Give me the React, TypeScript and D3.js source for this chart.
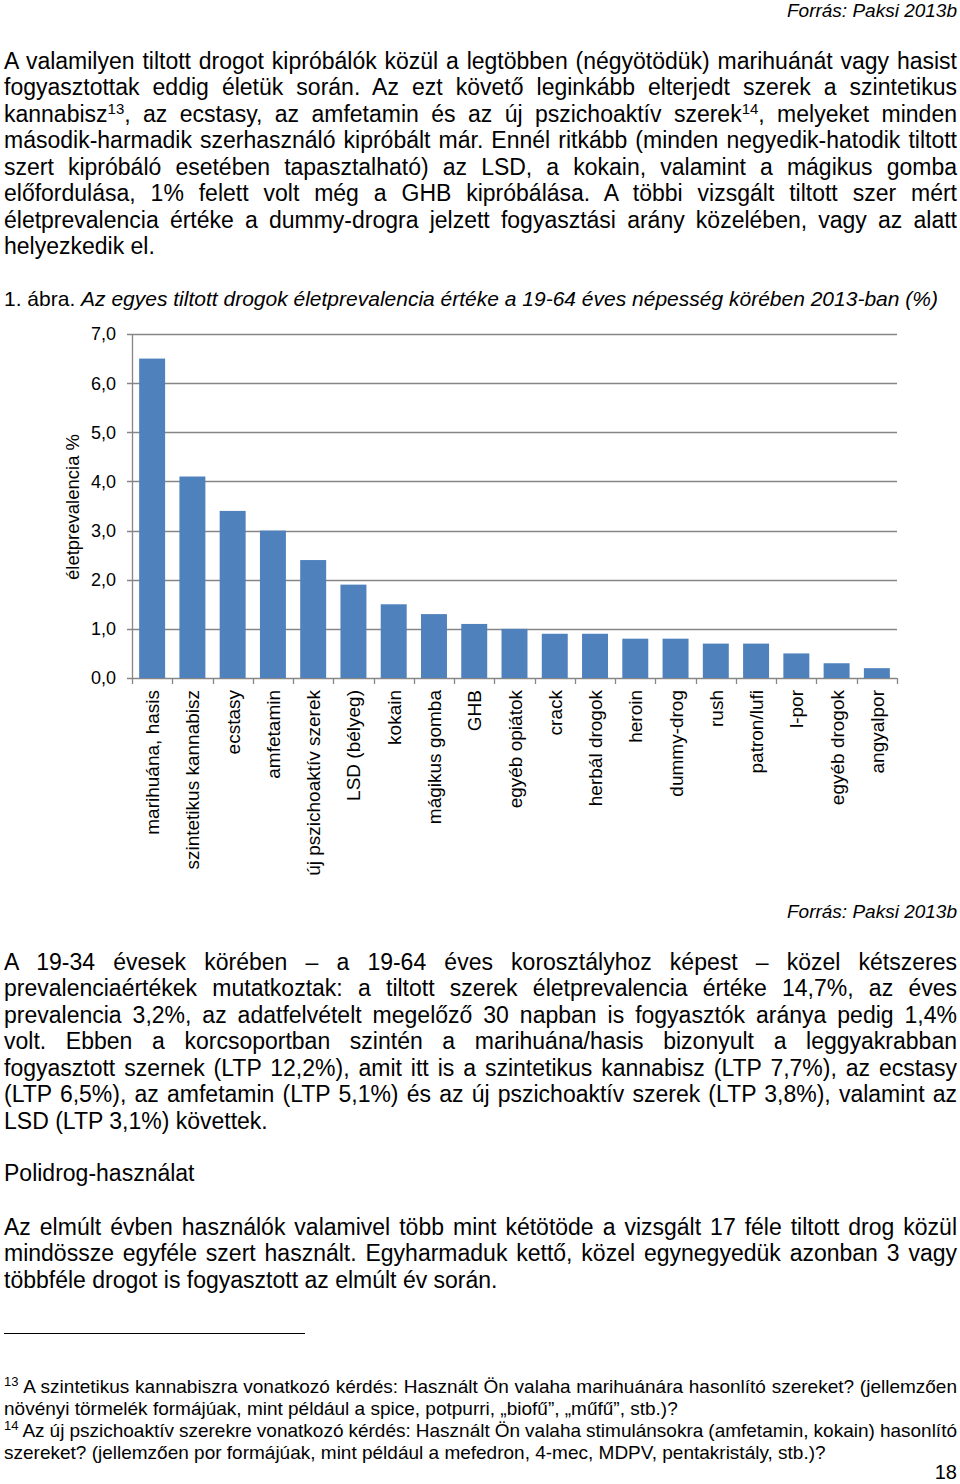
import React, { useEffect, useRef } from "react";
import * as d3 from "d3";

// ---------- chart data ----------
const categories = [
  "marihuána, hasis",
  "szintetikus kannabisz",
  "ecstasy",
  "amfetamin",
  "új pszichoaktív szerek",
  "LSD (bélyeg)",
  "kokain",
  "mágikus gomba",
  "GHB",
  "egyéb opiátok",
  "crack",
  "herbál drogok",
  "heroin",
  "dummy-drog",
  "rush",
  "patron/lufi",
  "l-por",
  "egyéb drogok",
  "angyalpor",
];
const values = [6.5, 4.1, 3.4, 3.0, 2.4, 1.9, 1.5, 1.3, 1.1, 1.0, 0.9, 0.9, 0.8, 0.8, 0.7, 0.7, 0.5, 0.3, 0.2];
const yTicks = [0, 1, 2, 3, 4, 5, 6, 7];
const yTickLabels = ["0,0", "1,0", "2,0", "3,0", "4,0", "5,0", "6,0", "7,0"];
const yTitle = "életprevalencia %";

// ---------- page text ----------
const source = "Forrás: Paksi 2013b";
const para1 = [
  "A valamilyen tiltott drogot kipróbálók közül a legtöbben (négyötödük) marihuánát vagy hasist",
  "fogyasztottak eddig életük során. Az ezt követő leginkább elterjedt szerek a szintetikus",
  "kannabisz{13}, az ecstasy, az amfetamin és az új pszichoaktív szerek{14}, melyeket minden",
  "második-harmadik szerhasználó kipróbált már. Ennél ritkább (minden negyedik-hatodik tiltott",
  "szert kipróbáló esetében tapasztalható) az LSD, a kokain, valamint a mágikus gomba",
  "előfordulása, 1% felett volt még a GHB kipróbálása. A többi vizsgált tiltott szer mért",
  "életprevalencia értéke a dummy-drogra jelzett fogyasztási arány közelében, vagy az alatt",
  "helyezkedik el.",
];
const captionPrefix = "1. ábra. ";
const captionText = "Az egyes tiltott drogok életprevalencia értéke a 19-64 éves népesség körében 2013-ban (%)";
const para2 = [
  "A 19-34 évesek körében – a 19-64 éves korosztályhoz képest – közel kétszeres",
  "prevalenciaértékek mutatkoztak: a tiltott szerek életprevalencia értéke 14,7%, az éves",
  "prevalencia 3,2%, az adatfelvételt megelőző 30 napban is fogyasztók aránya pedig 1,4%",
  "volt. Ebben a korcsoportban szintén a marihuána/hasis bizonyult a leggyakrabban",
  "fogyasztott szernek (LTP 12,2%), amit itt is a szintetikus kannabisz (LTP 7,7%), az ecstasy",
  "(LTP 6,5%), az amfetamin (LTP 5,1%) és az új pszichoaktív szerek (LTP 3,8%), valamint az",
  "LSD (LTP 3,1%) követtek.",
];
const heading = "Polidrog-használat";
const para3 = [
  "Az elmúlt évben használók valamivel több mint kétötöde a vizsgált 17 féle tiltott drog közül",
  "mindössze egyféle szert használt. Egyharmaduk kettő, közel egynegyedük azonban 3 vagy",
  "többféle drogot is fogyasztott az elmúlt év során.",
];
const footnotes = [
  "{13} A szintetikus kannabiszra vonatkozó kérdés: Használt Ön valaha marihuánára hasonlító szereket? (jellemzően",
  "növényi törmelék formájúak, mint például a spice, potpurri, „biofű”, „műfű”, stb.)?",
  "{14} Az új pszichoaktív szerekre vonatkozó kérdés: Használt Ön valaha stimulánsokra (amfetamin, kokain) hasonlító",
  "szereket? (jellemzően por formájúak, mint például a mefedron, 4-mec, MDPV, pentakristály, stb.)?",
];
const pageNumber = "18";

const FONT = "'Liberation Sans', Arial, sans-serif";
const W = 960;
const H = 1484;
const LEFT = 4;
const RIGHT = 957;

export default function App() {
  const ref = useRef<SVGSVGElement | null>(null);

  useEffect(() => {
    const svg = d3.select(ref.current);
    svg.selectAll("*").remove();

    // ---- helper for a text line with optional superscripts and justification ----
    function line(
      str: string,
      y: number,
      size: number,
      justify: boolean,
      supSize: number,
      supRaise: number
    ) {
      const t = svg
        .append("text")
        .attr("x", LEFT)
        .attr("y", y)
        .attr("font-family", FONT)
        .attr("font-size", size)
        .attr("fill", "#000")
        .attr("xml:space", "preserve")
        .style("white-space", "pre");
      const parts = str.split(/\{(\d+)\}/);
      let raised = false;
      parts.forEach((p, i) => {
        if (p === "") return;
        if (i % 2 === 1) {
          t.append("tspan").attr("font-size", supSize).attr("dy", -supRaise).text(p);
          raised = true;
        } else {
          const ts = t.append("tspan").text(p);
          if (raised) {
            ts.attr("dy", supRaise);
            raised = false;
          }
        }
      });
      if (justify) {
        const node = t.node() as SVGTextElement;
        const len = node.getComputedTextLength();
        const spaces = (str.replace(/\{\d+\}/g, "").match(/ /g) || []).length;
        if (spaces > 0) {
          const ws = (RIGHT - LEFT - len) / spaces;
          t.style("word-spacing", `${ws}px`);
        }
      }
      return t;
    }

    // ---- top source ----
    svg
      .append("text")
      .attr("x", RIGHT)
      .attr("y", 17)
      .attr("text-anchor", "end")
      .attr("font-family", FONT)
      .attr("font-style", "italic")
      .attr("font-size", 19)
      .text(source);

    // ---- paragraph 1 ----
    para1.forEach((s, i) => line(s, 69 + i * 26.45, 23, i < para1.length - 1, 15, 8));

    // ---- caption ----
    const cap = svg
      .append("text")
      .attr("x", LEFT)
      .attr("y", 306)
      .attr("font-family", FONT)
      .attr("font-size", 21)
      .attr("xml:space", "preserve")
      .style("white-space", "pre");
    cap.append("tspan").text(captionPrefix);
    cap.append("tspan").attr("font-style", "italic").text(captionText);

    // ---- chart ----
    const x0 = 132;
    const x1 = 897;
    const yBase = 678;
    const yTop = 334;
    const x = d3.scaleBand<string>().domain(categories).range([x0, x1]).paddingInner(0.355).paddingOuter(0.1775);
    const y = d3.scaleLinear().domain([0, 7]).range([yBase, yTop]);
    const g = svg.append("g");
    const gridColor = "#868686";

    // gridlines + y ticks
    yTicks.forEach((v, i) => {
      g.append("line")
        .attr("x1", x0 - 5)
        .attr("x2", x1)
        .attr("y1", Math.round(y(v)) + 0.5)
        .attr("y2", Math.round(y(v)) + 0.5)
        .attr("stroke", gridColor)
        .attr("stroke-width", 1.3);
      g.append("text")
        .attr("x", x0 - 16)
        .attr("y", y(v))
        .attr("dy", "0.36em")
        .attr("text-anchor", "end")
        .attr("font-family", FONT)
        .attr("font-size", 18)
        .attr("fill", "#000")
        .text(yTickLabels[i]);
    });

    // y axis line
    g.append("line")
      .attr("x1", x0 + 0.5)
      .attr("x2", x0 + 0.5)
      .attr("y1", yTop)
      .attr("y2", yBase)
      .attr("stroke", gridColor)
      .attr("stroke-width", 1.3);

    // bars
    g.selectAll("rect.bar")
      .data(values)
      .enter()
      .append("rect")
      .attr("class", "bar")
      .attr("x", (_d, i) => x(categories[i]) as number)
      .attr("width", x.bandwidth())
      .attr("y", (d) => y(d))
      .attr("height", (d) => yBase - y(d))
      .attr("fill", "#4f81bd");

    // x category ticks
    const step = x.step();
    d3.range(categories.length + 1).forEach((i) => {
      const xx = Math.round(x0 + i * step) + 0.5;
      g.append("line")
        .attr("x1", xx)
        .attr("x2", xx)
        .attr("y1", yBase)
        .attr("y2", yBase + 6)
        .attr("stroke", gridColor)
        .attr("stroke-width", 1.3);
    });

    // x labels
    categories.forEach((c) => {
      const cx = (x(c) as number) + x.bandwidth() / 2;
      g.append("text")
        .attr("transform", `translate(${cx + 7},${yBase + 12}) rotate(-90)`)
        .attr("text-anchor", "end")
        .attr("font-family", FONT)
        .attr("font-size", 19)
        .attr("fill", "#000")
        .text(c);
    });

    // y title
    g.append("text")
      .attr("transform", `translate(${79},${507}) rotate(-90)`)
      .attr("text-anchor", "middle")
      .attr("font-family", FONT)
      .attr("font-size", 18.5)
      .attr("fill", "#000")
      .text(yTitle);

    // ---- second source ----
    svg
      .append("text")
      .attr("x", RIGHT)
      .attr("y", 918)
      .attr("text-anchor", "end")
      .attr("font-family", FONT)
      .attr("font-style", "italic")
      .attr("font-size", 19)
      .text(source);

    // ---- paragraph 2 ----
    para2.forEach((s, i) => line(s, 970 + i * 26.45, 23, i < para2.length - 1, 15, 8));

    // ---- heading ----
    line(heading, 1181, 23, false, 15, 8);

    // ---- paragraph 3 ----
    para3.forEach((s, i) => line(s, 1235 + i * 26.45, 23, i < para3.length - 1, 15, 8));

    // ---- footnote rule ----
    svg
      .append("line")
      .attr("x1", LEFT)
      .attr("x2", 305)
      .attr("y1", 1333.5)
      .attr("y2", 1333.5)
      .attr("stroke", "#000")
      .attr("stroke-width", 1);

    // ---- footnotes ----
    footnotes.forEach((s, i) => line(s, 1392.5 + i * 22, 19, i % 2 === 0, 13, 7));

    // ---- page number ----
    svg
      .append("text")
      .attr("x", RIGHT)
      .attr("y", 1479)
      .attr("text-anchor", "end")
      .attr("font-family", FONT)
      .attr("font-size", 20)
      .text(pageNumber);
  }, []);

  return (
    <svg
      ref={ref}
      width={W}
      height={H}
      style={{ position: "absolute", left: 0, top: 0, background: "#fff" }}
    />
  );
}
